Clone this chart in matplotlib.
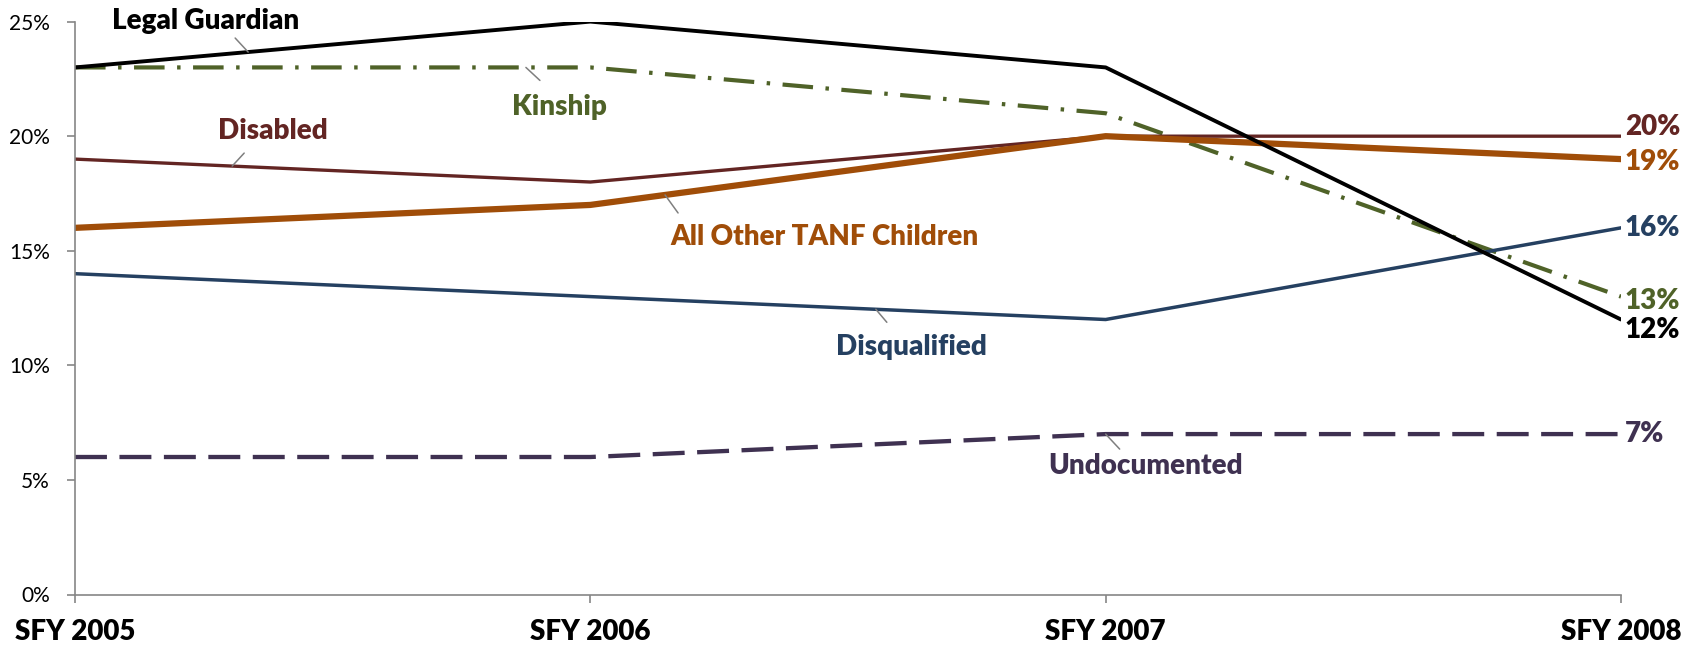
import matplotlib
matplotlib.use("Agg")
import matplotlib.pyplot as plt
import numpy as np

plt.rcParams['font.family'] = ['Lato', 'DejaVu Sans']
plt.rcParams['lines.scale_dashes'] = False

categories = ["SFY 2005", "SFY 2006", "SFY 2007", "SFY 2008"]
legal_guardian = [23, 25, 23, 12]
kinship = [23, 23, 21, 13]
disabled = [19, 18, 20, 20]
all_other_tanf = [16, 17, 20, 19]
disqualified = [14, 13, 12, 16]
undocumented = [6, 6, 7, 7]
yticks = [0, 5, 10, 15, 20, 25]

series = [
    # name, values, color, lw(pt), dashes, label anchor x, leader end offset, text offset, end-label dy
    ("Kinship", kinship, "#4F6228", 3.0, (22, 9, 2.5, 9), 0.875, (14, -13), (34, -40), 4),
    ("Disabled", disabled, "#632523", 2.4, None, 0.305, (12, 13), (41, 35), -9),
    ("Undocumented", undocumented, "#3F3151", 3.1, (23, 9), 2.0, (14, -15), (40, -32), 0),
    ("Disqualified", disqualified, "#254061", 2.5, None, 1.554, (11, -13), (36, -38), 0),
    ("All Other TANF Children", all_other_tanf, "#A04D08", 4.5, None, 1.145, (13, -18), (159, -42), 3),
    ("Legal Guardian", legal_guardian, "#000000", 2.8, None, 0.336, (-13, 14), (-43, 31), 10),
]

W, H = 1692, 646
fig = plt.figure(figsize=(W / 100, H / 100), dpi=100)
ax = fig.add_axes([75 / W, 1 - 594.5 / H, (1621 - 75) / W, (594.5 - 21.6) / H])

x = np.arange(len(categories))
for name, vals, col, lw, dashes, ax_x, lead, txt, edy in series:
    line, = ax.plot(x, vals, color=col, lw=lw, solid_capstyle='round',
                    solid_joinstyle='round', dash_capstyle='butt')
    if dashes is not None:
        line.set_dashes(dashes)
    ay = np.interp(ax_x, x, vals)
    ax.annotate("", xy=(ax_x, ay), xytext=lead, textcoords='offset pixels',
                arrowprops=dict(arrowstyle='-', color='#7F7F7F', lw=1.1,
                                shrinkA=0, shrinkB=0))
    ax.annotate(name, xy=(ax_x, ay), xytext=txt, textcoords='offset pixels',
                ha='center', va='center', color=col, fontsize=20, fontweight='heavy')
    ax.annotate(f"{vals[-1]}%", xy=(x[-1], vals[-1]), xytext=(4, -edy),
                textcoords='offset pixels', ha='left', va='center',
                color=col, fontsize=20, fontweight='heavy', annotation_clip=False)

ax.set_xlim(0, len(categories) - 1)
ax.set_ylim(0, 25)
ax.set_xticks(x)
ax.set_xticklabels(categories, fontsize=20, fontweight='heavy')
ax.set_yticks(yticks)
ax.set_yticklabels([f"{v}%" for v in yticks], fontsize=15)
for s in ['top', 'right']:
    ax.spines[s].set_visible(False)
for s in ['left', 'bottom']:
    ax.spines[s].set_color('#868686')
    ax.spines[s].set_linewidth(1.2)
ax.tick_params(axis='both', color='#868686', width=1.2, length=6, direction='out')
ax.tick_params(axis='x', pad=12)
ax.tick_params(axis='y', pad=12)
for lbl in ax.get_xticklabels():
    lbl.set_clip_on(False)

fig.savefig("out.png", dpi=100)
